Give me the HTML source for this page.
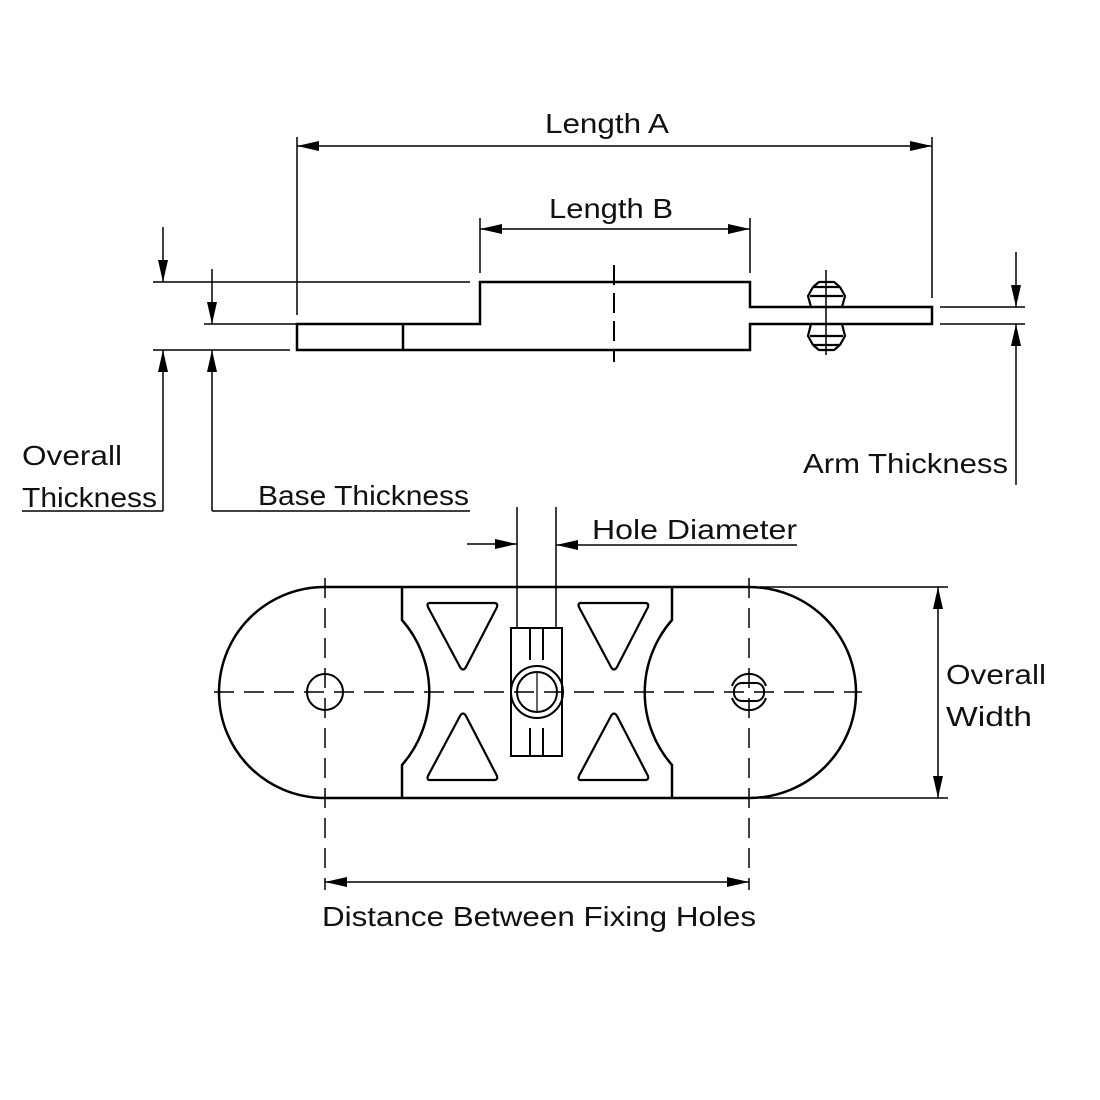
<!DOCTYPE html>
<html><head><style>
html,body{margin:0;padding:0;background:#fff;}
svg{display:block;}
text{font-family:"Liberation Sans",sans-serif;font-size:28px;fill:#111;}
</style></head><body>
<svg width="1100" height="1100" viewBox="0 0 1100 1100" xmlns="http://www.w3.org/2000/svg">
<defs>
<marker id="a" viewBox="0 0 22 10" refX="22" refY="5" markerWidth="22" markerHeight="10" markerUnits="userSpaceOnUse" orient="auto-start-reverse"><path d="M0,0 L22,5 L0,10 Z" fill="#000"/></marker>
</defs>
<g stroke="#000" stroke-width="2" fill="none">
<!-- Side view -->
<path d="M297,350 L297,324 L480,324 L480,282 L750,282 L750,307 L932,307 L932,324 L750,324 L750,350 Z" stroke-width="2.5"/>
<line x1="403" y1="324" x2="403" y2="350" stroke-width="2.5"/>
<line x1="614" y1="265" x2="614" y2="362" stroke-dasharray="20,8"/>
<!-- fastener -->
<path d="M813,287 L808,296 L811,307 M840,287 L845,296 L842,307 M813,287 L840,287 M810,296 L843,296 M813,287 L819,282 L834,282 L840,287" stroke-width="2.2"/>
<path d="M813,345 L808,336 L811,324 M840,345 L845,336 L842,324 M813,345 L840,345 M810,336 L843,336 M813,345 L819,350 L834,350 L840,345" stroke-width="2.2"/>
<line x1="826" y1="270" x2="826" y2="355" stroke-width="1.5"/>
<!-- extension lines side -->
<line x1="153" y1="282" x2="470" y2="282" stroke-width="1.5"/>
<line x1="204" y1="324" x2="297" y2="324" stroke-width="1.5"/>
<line x1="153" y1="350" x2="290" y2="350" stroke-width="1.5"/>
<line x1="297" y1="137" x2="297" y2="315" stroke-width="1.5"/>
<line x1="932" y1="137" x2="932" y2="298" stroke-width="1.5"/>
<line x1="480" y1="218" x2="480" y2="273" stroke-width="1.5"/>
<line x1="750" y1="218" x2="750" y2="273" stroke-width="1.5"/>
<line x1="940" y1="307" x2="1025" y2="307" stroke-width="1.5"/>
<line x1="940" y1="324" x2="1025" y2="324" stroke-width="1.5"/>
<!-- dims -->
<line x1="297" y1="146" x2="932" y2="146" stroke-width="1.5" marker-start="url(#a)" marker-end="url(#a)"/>
<line x1="480" y1="229" x2="750" y2="229" stroke-width="1.5" marker-start="url(#a)" marker-end="url(#a)"/>
<line x1="163" y1="227" x2="163" y2="282" stroke-width="1.5" marker-end="url(#a)"/>
<line x1="212" y1="269" x2="212" y2="324" stroke-width="1.5" marker-end="url(#a)"/>
<line x1="163" y1="511" x2="163" y2="350" stroke-width="1.5" marker-end="url(#a)"/>
<line x1="212" y1="511" x2="212" y2="350" stroke-width="1.5" marker-end="url(#a)"/>
<line x1="22" y1="511" x2="163" y2="511" stroke-width="1.5"/>
<line x1="212" y1="511" x2="470" y2="511" stroke-width="1.5"/>
<line x1="1016" y1="252" x2="1016" y2="307" stroke-width="1.5" marker-end="url(#a)"/>
<line x1="1016" y1="485" x2="1016" y2="324" stroke-width="1.5" marker-end="url(#a)"/>
<!-- Plan view -->
<path d="M325,587 L749,587 C808,587 856,634 856,692.5 C856,751 808,798 749,798 L325,798 C266,798 219,751 219,692.5 C219,634 266,587 325,587 Z" stroke-width="2.5"/>
<path d="M402,587 L402,620 A110,110 0 0 1 402,765 L402,798" stroke-width="2.5"/>
<path d="M672,587 L672,620 A110,110 0 0 0 672,765 L672,798" stroke-width="2.5"/>
<!-- triangles -->
<g stroke-width="2.2" stroke-linejoin="round">
<path d="M429,603 L495,603 Q499,604 496,609 L466,667 Q463,672 460,667 L429,609 Q426,604 429,603 Z"/>
<path d="M429,780 L495,780 Q499,779 496,774 L466,716 Q463,711 460,716 L429,774 Q426,779 429,780 Z"/>
<path d="M580,603 L646,603 Q650,604 647,609 L617,667 Q614,672 611,667 L580,609 Q577,604 580,603 Z"/>
<path d="M580,780 L646,780 Q650,779 647,774 L617,716 Q614,711 611,716 L580,774 Q577,779 580,780 Z"/>
</g>
<!-- slot -->
<rect x="511" y="628" width="51" height="128" stroke-width="2"/>
<line x1="530" y1="628" x2="530" y2="660"/><line x1="543" y1="628" x2="543" y2="660"/>
<line x1="530" y1="728" x2="530" y2="756"/><line x1="543" y1="728" x2="543" y2="756"/>
<circle cx="537" cy="692" r="26"/>
<circle cx="537" cy="692" r="20"/>
<line x1="517" y1="507" x2="517" y2="628" stroke-width="1.5"/>
<line x1="556" y1="507" x2="556" y2="628" stroke-width="1.5"/>
<line x1="467" y1="544" x2="517" y2="544" stroke-width="1.5" marker-end="url(#a)"/>
<line x1="797" y1="545" x2="556" y2="545" stroke-width="1.5" marker-end="url(#a)"/>
<!-- holes -->
<circle cx="325" cy="692" r="18"/>
<path d="M732,686 A18,18 0 0 1 766,686 M732,698 A18,18 0 0 0 766,698"/>
<rect x="734" y="683" width="30" height="18" rx="8"/>
<!-- center lines -->
<line x1="214" y1="692" x2="862" y2="692" stroke-width="1.5" stroke-dasharray="20,10"/>
<line x1="325" y1="578" x2="325" y2="890" stroke-width="1.5" stroke-dasharray="20,10"/>
<line x1="749" y1="578" x2="749" y2="890" stroke-width="1.5" stroke-dasharray="20,10"/>
<line x1="537" y1="672" x2="537" y2="712" stroke-width="1.2"/>
<!-- width dims -->
<line x1="760" y1="587" x2="948" y2="587" stroke-width="1.5"/>
<line x1="760" y1="798" x2="948" y2="798" stroke-width="1.5"/>
<line x1="938" y1="587" x2="938" y2="798" stroke-width="1.5" marker-start="url(#a)" marker-end="url(#a)"/>
<line x1="325" y1="882" x2="749" y2="882" stroke-width="1.5" marker-start="url(#a)" marker-end="url(#a)"/>
</g>
<text x="607" y="133" text-anchor="middle" textLength="124" lengthAdjust="spacingAndGlyphs">Length A</text>
<text x="611" y="218" text-anchor="middle" textLength="124" lengthAdjust="spacingAndGlyphs">Length B</text>
<text x="22" y="465" textLength="100" lengthAdjust="spacingAndGlyphs">Overall</text>
<text x="22" y="507" textLength="135" lengthAdjust="spacingAndGlyphs">Thickness</text>
<text x="258" y="505" textLength="211" lengthAdjust="spacingAndGlyphs">Base Thickness</text>
<text x="803" y="473" textLength="205" lengthAdjust="spacingAndGlyphs">Arm Thickness</text>
<text x="592" y="539" textLength="205" lengthAdjust="spacingAndGlyphs">Hole Diameter</text>
<text x="946" y="684" textLength="100" lengthAdjust="spacingAndGlyphs">Overall</text>
<text x="946" y="726" textLength="86" lengthAdjust="spacingAndGlyphs">Width</text>
<text x="322" y="926" textLength="434" lengthAdjust="spacingAndGlyphs">Distance Between Fixing Holes</text>
</svg>
</body></html>
